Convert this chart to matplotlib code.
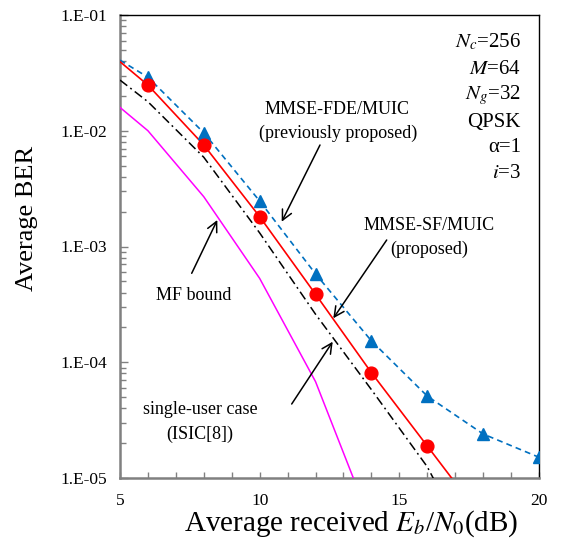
import matplotlib
matplotlib.use("Agg")
import matplotlib.pyplot as plt
from matplotlib.ticker import FixedLocator, FuncFormatter, LogLocator, NullFormatter, MultipleLocator
import numpy as np

plt.rcParams['font.family'] = ['Liberation Serif', 'DejaVu Serif']
plt.rcParams['mathtext.fontset'] = 'stix'

# ---- data ----
snr_fde = [5, 6, 8, 10, 12, 14, 16, 18, 20]
ber_fde = [4.07e-2, 2.9e-2, 9.6e-3, 2.47e-3, 5.8e-4, 1.53e-4, 5.1e-5, 2.4e-5, 1.51e-5]
snr_fde_mk = [6, 8, 10, 12, 14, 16, 18, 20]
ber_fde_mk = [2.9e-2, 9.6e-3, 2.47e-3, 5.8e-4, 1.53e-4, 5.1e-5, 2.4e-5, 1.51e-5]

snr_sf = [5, 6, 8, 10, 12, 14, 16, 17]
ber_sf = [3.95e-2, 2.48e-2, 7.53e-3, 1.81e-3, 3.87e-4, 8.13e-5, 1.89e-5, 9.1e-6]
snr_sf_mk = [6, 8, 10, 12, 14, 16]
ber_sf_mk = [2.48e-2, 7.53e-3, 1.81e-3, 3.87e-4, 8.13e-5, 1.89e-5]

snr_su = [5, 6, 8, 10, 12, 14, 16, 18]
ber_su = [2.74e-2, 1.78e-2, 5.9e-3, 1.31e-3, 2.6e-4, 5.8e-5, 1.25e-5, 1.5e-6]

snr_mf = [5, 6, 8, 10, 12, 14]
ber_mf = [1.59e-2, 1.0e-2, 2.69e-3, 5.3e-4, 6.8e-5, 4e-6]

xticks = [5, 10, 15, 20]
yticks = [1e-5, 1e-4, 1e-3, 1e-2, 1e-1]
ytick_labels = ['1.E-05', '1.E-04', '1.E-03', '1.E-02', '1.E-01']

params = [r'$N_c$=256', r'$M$=64', r'$N_g$=32', 'QPSK', 'α=1', r'$i$=3']

W, H = 561, 544
fig = plt.figure(figsize=(W / 100, H / 100), dpi=100)
L, R, T, B = 120, 539, 15, 478
ax = fig.add_axes([L / W, 1 - B / H, (R - L) / W, (B - T) / H])

blue = '#0070C0'
ax.plot(snr_fde, ber_fde, color=blue, lw=1.2, dashes=(3.5, 2.5), zorder=3)
ax.plot(snr_fde_mk, ber_fde_mk, ls='none', marker='^', ms=8.5, color=blue, zorder=4)
ax.plot(snr_sf, ber_sf, color='#FF0000', lw=1.2, zorder=3)
ax.plot(snr_sf_mk, ber_sf_mk, ls='none', marker='o', ms=9.2, color='#FF0000', zorder=4)
ax.plot(snr_su, ber_su, color='black', lw=1.1, dashes=(6, 2.5, 1.2, 2.5), zorder=3)
ax.plot(snr_mf, ber_mf, color='#FF00FF', lw=1.1, zorder=3)

ax.set_yscale('log')
ax.set_xlim(5, 20)
ax.set_ylim(1e-5, 1e-1)

ax.yaxis.set_major_locator(FixedLocator(yticks))
ax.yaxis.set_major_formatter(FuncFormatter(lambda v, p: ytick_labels[yticks.index(min(yticks, key=lambda t: abs(np.log10(t) - np.log10(v))))]))
ax.yaxis.set_minor_locator(LogLocator(base=10, subs=np.arange(2, 10)))
ax.yaxis.set_minor_formatter(NullFormatter())
ax.xaxis.set_major_locator(FixedLocator(xticks))
ax.xaxis.set_minor_locator(MultipleLocator(1))

grey = '#808080'
ax.tick_params(axis='y', which='both', direction='in', left=True, right=False, color=grey, width=1, labelsize=12.5, pad=9)
ax.tick_params(axis='y', which='major', length=6)
ax.tick_params(axis='y', which='minor', length=4)
ax.tick_params(axis='x', which='both', direction='in', bottom=True, top=False, color=grey, width=1, length=4, labelsize=12.5, pad=11)

for s in ['left', 'bottom']:
    ax.spines[s].set_color(grey)
    ax.spines[s].set_linewidth(1.8)
for s in ['top', 'right']:
    ax.spines[s].set_color('black')
    ax.spines[s].set_linewidth(1.0)

ax.set_xlabel(r'Average received $E_b$/$N_0$(dB)', fontsize=21)
ax.xaxis.label.set_va('center')
ax.xaxis.set_label_coords((351 - L) / (R - L), -(524 - B) / (B - T))
ax.set_ylabel('Average BER', fontsize=19)
ax.yaxis.label.set_va('center')
ax.yaxis.set_label_coords((27 - L) / (R - L), (B - 218) / (B - T))


def fx(px):
    return px / W


def fy(py):
    return 1 - py / H


def dx(px):
    return 5 + (px - L) / ((R - L) / 15)


def dy(py):
    return 10 ** (-1 - (py - T) / ((B - T) / 4))


tsize = 13
for s, (px, py) in [('MMSE-FDE/MUIC', (337, 110)), ('(previously proposed)', (338, 133)),
                    ('MMSE-SF/MUIC', (429, 225)), ('(proposed)', (429, 249)),
                    ('MF bound', (194, 296)),
                    ('single-user case', (200, 409)), ('(ISIC[8])', (200, 434))]:
    fig.text(fx(px), fy(py), s, ha='center', va='center', fontsize=tsize)

ys = [42, 69, 95, 122, 148, 174]
for s, py in zip(params, ys):
    fig.text(fx(521), fy(py), s, ha='right', va='center', fontsize=15)

arrows = [((320, 145), (281.7, 221.7)),
          ((386.7, 240), (333.3, 318.3)),
          ((191.7, 273.3), (217.3, 220)),
          ((291.7, 404), (332.7, 341.7))]
for (sx, sy), (ex, ey) in arrows:
    ax.annotate('', xy=(dx(ex), dy(ey)), xytext=(dx(sx), dy(sy)),
                arrowprops=dict(arrowstyle='->', color='black', lw=1.1, mutation_scale=18,
                                shrinkA=0, shrinkB=0), zorder=5)

fig.savefig('out.png', dpi=100)
